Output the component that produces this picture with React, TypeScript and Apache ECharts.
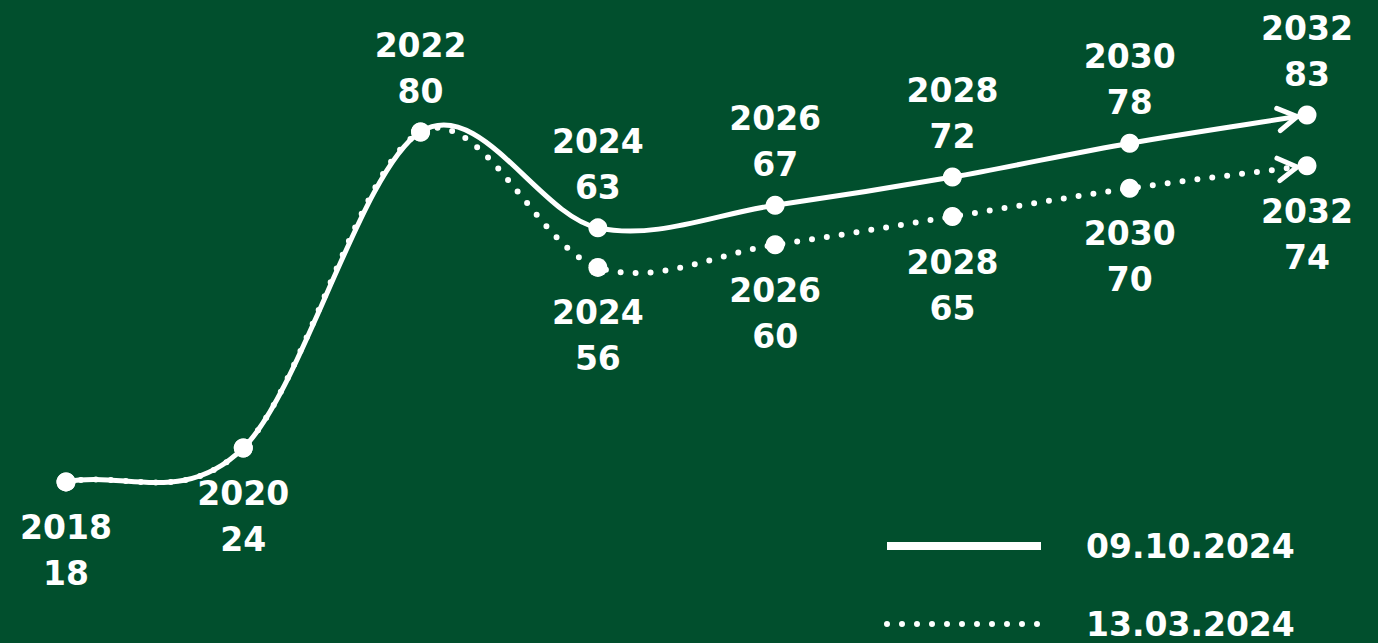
import React, { useEffect, useRef } from "react";
import * as echarts from "echarts";

// Forecast years and values for the two forecast editions
const years = ["2018", "2020", "2022", "2024", "2026", "2028", "2030", "2032"];
const forecastOct2024 = [18, 24, 80, 63, 67, 72, 78, 83];
const forecastMar2024 = [18, 24, 80, 56, 60, 65, 70, 74];
const seriesNames = ["09.10.2024", "13.03.2024"];

// Years whose October label sits under the point instead of above it
const labelBelowYears = ["2018", "2020"];
// March points that share the October position keep no label
const hiddenMarLabelYears = ["2018", "2020", "2022"];

const BG = "#014f2d";
const WHITE = "#ffffff";
const FONT = "DejaVu Sans";
const DOTS = [0, 15];

const labelText = (p: any) => `${p.name}\n${p.value}`;

const baseLabel = {
  show: true,
  color: WHITE,
  fontFamily: FONT,
  fontWeight: "bold" as const,
  fontSize: 33,
  lineHeight: 46,
  formatter: labelText,
};

// Cardinal (Catmull-Rom) curve through the projected points, ending in an
// open chevron that follows the direction of the last segment.
function curveRenderer(values: number[], width: number, dash: number[] | null) {
  return (_params: any, api: any) => {
    const pts: number[][] = values.map((v, i) => api.coord([i, v]));
    const n = pts.length;
    // mirrored neighbours at both ends
    const at = (i: number): number[] => {
      if (i < 0) return [2 * pts[0][0] - pts[1][0], 2 * pts[0][1] - pts[1][1]];
      if (i > n - 1)
        return [2 * pts[n - 1][0] - pts[n - 2][0], 2 * pts[n - 1][1] - pts[n - 2][1]];
      return pts[i];
    };
    let d = `M${pts[0][0]},${pts[0][1]}`;
    let lastC2 = pts[n - 1];
    for (let i = 0; i < n - 1; i++) {
      const p0 = at(i - 1);
      const p1 = at(i);
      const p2 = at(i + 1);
      const p3 = at(i + 2);
      const c1 = [p1[0] + (p2[0] - p0[0]) / 6, p1[1] + (p2[1] - p0[1]) / 6];
      const c2 = [p2[0] - (p3[0] - p1[0]) / 6, p2[1] - (p3[1] - p1[1]) / 6];
      d += ` C${c1[0]},${c1[1]} ${c2[0]},${c2[1]} ${p2[0]},${p2[1]}`;
      lastC2 = c2;
    }
    const end = pts[n - 1];
    const dx = end[0] - lastC2[0];
    const dy = end[1] - lastC2[1];
    const len = Math.hypot(dx, dy) || 1;
    const ux = dx / len;
    const uy = dy / len;
    const tip = [end[0] - ux * 10, end[1] - uy * 10];
    const arm = 22;
    const ang = (31 * Math.PI) / 180;
    const back = Math.atan2(-uy, -ux);
    const a1 = [tip[0] + arm * Math.cos(back + ang), tip[1] + arm * Math.sin(back + ang)];
    const a2 = [tip[0] + arm * Math.cos(back - ang), tip[1] + arm * Math.sin(back - ang)];

    return {
      type: "group",
      children: [
        {
          type: "path",
          shape: { pathData: d },
          style: {
            fill: "none",
            stroke: WHITE,
            lineWidth: width,
            lineCap: "round",
            lineDash: dash || undefined,
          },
        },
        {
          type: "polyline",
          shape: { points: [a1, tip, a2] },
          style: {
            fill: "none",
            stroke: WHITE,
            lineWidth: 5,
            lineCap: "round",
            lineJoin: "round",
          },
        },
      ],
    };
  };
}

export default function App() {
  const ref = useRef<HTMLDivElement>(null);

  useEffect(() => {
    if (!ref.current) return;
    const chart = echarts.init(ref.current, undefined, { renderer: "svg" });

    const octData = forecastOct2024.map((v, i) => ({
      value: v,
      label: labelBelowYears.includes(years[i])
        ? { position: "bottom", distance: 13 }
        : { position: "top", distance: 8 },
    }));

    const marData = forecastMar2024.map((v, i) => ({
      value: v,
      label: hiddenMarLabelYears.includes(years[i])
        ? { show: false }
        : { position: "bottom", distance: 13 },
    }));

    chart.setOption({
      animation: false,
      backgroundColor: BG,
      grid: { left: 66, right: 71, top: 19, bottom: 59.5 },
      xAxis: {
        type: "category",
        data: years,
        boundaryGap: false,
        show: false,
      },
      yAxis: { type: "value", min: 0, max: 100, show: false },
      legend: {
        orient: "vertical",
        left: 883,
        top: 526,
        height: 140,
        padding: 0,
        itemWidth: 154,
        itemHeight: 14,
        itemGap: 38,
        itemStyle: { opacity: 0 },
        selectedMode: false,
        data: [
          {
            name: seriesNames[0],
            lineStyle: { color: WHITE, opacity: 1, width: 8, cap: "butt" },
          },
          {
            name: seriesNames[1],
            lineStyle: { color: WHITE, opacity: 1, width: 6, type: DOTS, cap: "round" },
          },
        ],
        textStyle: {
          color: WHITE,
          fontFamily: FONT,
          fontWeight: "bold",
          fontSize: 33,
          lineHeight: 40,
          padding: [0, 0, 0, 40],
        },
      },
      series: [
        {
          type: "custom",
          coordinateSystem: "cartesian2d",
          silent: true,
          clip: false,
          z: 1,
          data: [[0, 0]],
          renderItem: curveRenderer(forecastMar2024, 6, DOTS),
        },
        {
          type: "custom",
          coordinateSystem: "cartesian2d",
          silent: true,
          clip: false,
          z: 2,
          data: [[0, 0]],
          renderItem: curveRenderer(forecastOct2024, 5, null),
        },
        {
          name: seriesNames[1],
          type: "line",
          data: marData,
          symbol: "circle",
          symbolSize: 19,
          z: 3,
          itemStyle: { color: WHITE },
          lineStyle: { color: WHITE, opacity: 0, width: 6, type: DOTS, cap: "round" },
          label: baseLabel,
        },
        {
          name: seriesNames[0],
          type: "line",
          data: octData,
          symbol: "circle",
          symbolSize: 19,
          z: 4,
          itemStyle: { color: WHITE },
          lineStyle: { color: WHITE, opacity: 0, width: 5 },
          label: baseLabel,
        },
      ],
    });

    return () => chart.dispose();
  }, []);

  return (
    <div
      ref={ref}
      style={{
        position: "fixed",
        left: 0,
        top: 0,
        width: "100vw",
        height: "100vh",
        background: BG,
      }}
    />
  );
}
